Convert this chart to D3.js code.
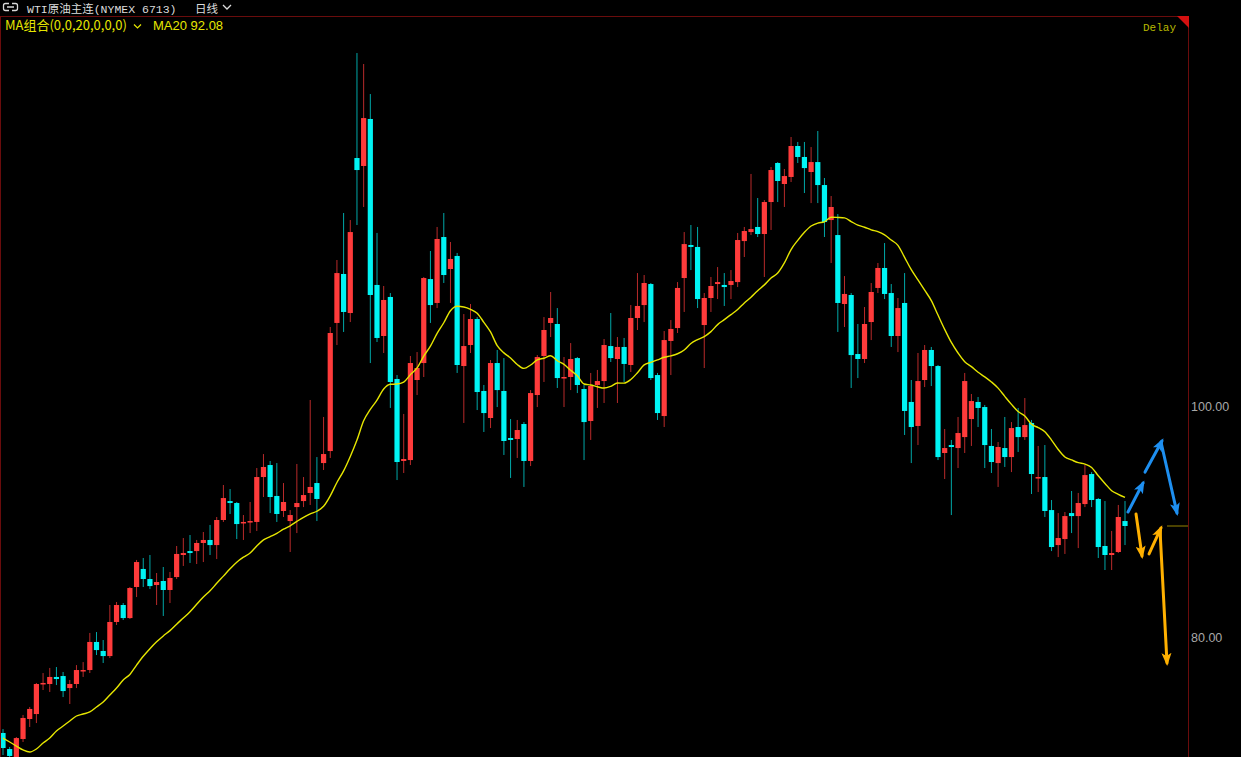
<!DOCTYPE html>
<html><head><meta charset="utf-8">
<script src="https://cdn.jsdelivr.net/npm/d3@7"></script>
<style>html,body{margin:0;padding:0;background:#000;overflow:hidden}</style>
</head><body><svg id="c" width="1241" height="757"></svg>
<script>
// ---- data ----
const title = "WTI原油主连(NYMEX 6713)";
const period = "日线";
const maLabel = "MA组合(0,0,20,0,0,0)";
const maPeriod = 20;
const yTicks = [80, 100];
const opens = [71.69,70.30,69.61,71.17,72.90,73.33,75.93,75.93,76.54,76.62,
75.58,75.93,77.06,77.14,79.57,78.79,78.35,81.30,82.77,81.64,
84.33,85.89,85.02,84.50,84.85,84.07,85.19,87.10,87.44,87.44,
88.14,88.40,87.96,90.13,91.77,91.60,89.87,89.96,89.96,93.85,
94.89,92.21,90.91,90.04,91.25,91.77,92.47,93.33,95.06,96.10,
107.19,111.43,108.05,121.47,120.78,124.85,110.48,106.06,109.44,102.34,
95.24,95.32,102.25,103.72,110.99,108.92,114.63,111.86,112.99,103.46,
105.28,107.53,101.30,98.96,103.72,101.30,97.23,97.14,98.44,95.24,
100.95,104.33,107.19,107.10,102.42,102.51,104.15,101.47,98.70,101.82,
102.16,105.19,104.07,105.11,103.55,107.62,108.74,110.56,102.68,99.13,
105.63,106.75,111.08,113.94,113.77,107.01,109.35,110.56,110.48,110.48,
110.73,114.28,115.06,115.50,114.89,117.66,121.04,119.22,119.83,122.51,
121.56,120.26,121.12,119.13,116.10,114.80,108.83,109.61,104.50,104.07,
107.27,110.22,111.95,109.78,106.06,108.92,100.35,98.27,102.25,104.85,
103.46,95.93,96.62,96.36,97.31,98.87,100.35,99.91,96.54,95.06,
96.36,95.58,98.18,97.31,98.53,93.77,93.85,90.99,87.96,88.48,
90.73,90.47,91.51,94.11,91.95,87.88,87.10,87.36,90.04];
const highs = [72.03,70.48,71.34,73.25,73.94,76.02,76.88,77.32,77.40,76.97,
76.28,77.57,77.83,80.35,80.43,79.74,82.77,83.03,82.94,84.33,
86.67,86.84,87.10,85.54,86.06,85.63,87.88,88.57,88.83,88.40,
89.09,89.70,90.39,93.16,92.81,91.69,90.56,91.69,94.63,95.84,
95.24,95.06,93.33,90.99,94.98,93.85,100.52,95.58,99.05,106.84,
112.64,116.71,116.10,130.56,129.61,127.01,114.98,110.39,109.78,102.68,
99.31,104.33,104.67,111.17,113.42,115.50,116.71,114.20,113.25,107.96,
108.83,107.70,101.82,103.98,104.85,104.15,98.87,98.79,98.61,101.38,
104.41,107.70,109.87,108.48,104.24,105.45,104.24,101.82,102.86,103.12,
105.80,108.05,105.97,105.89,108.74,111.51,111.34,110.65,102.86,106.49,
107.44,110.73,115.06,115.67,115.50,109.78,111.17,112.03,111.51,111.77,
114.98,115.50,120.09,118.01,117.83,120.69,121.12,120.52,123.29,122.86,
122.86,122.42,123.81,119.74,118.18,116.62,111.25,109.78,107.10,108.57,
110.65,112.38,114.11,110.56,109.35,111.51,102.25,104.59,105.28,105.11,
103.55,98.01,97.06,99.05,102.86,101.04,100.78,100.09,98.01,96.88,
99.05,98.61,99.83,100.69,98.79,96.54,96.62,91.86,90.73,90.82,
92.64,92.47,94.89,94.28,92.03,91.77,89.18,91.43,91.77];
const lows = [69.78,69.52,69.52,70.91,72.21,72.55,75.41,75.24,75.84,74.80,
74.20,75.58,76.54,76.88,78.44,77.75,78.18,81.04,81.47,81.56,
83.46,84.33,84.15,82.77,81.82,82.94,85.02,86.15,86.41,86.32,
86.49,87.10,86.75,89.96,90.65,88.48,88.40,89.00,89.18,92.12,
90.73,89.96,90.39,87.36,89.00,91.25,91.43,90.04,94.46,95.50,
105.28,106.41,107.27,115.67,117.23,103.72,105.54,104.59,99.83,93.59,
94.20,94.89,100.95,102.51,107.19,108.48,110.65,108.92,102.86,98.53,
104.59,99.65,97.75,98.09,99.91,95.76,93.77,95.50,92.99,94.80,
99.91,102.08,105.97,101.56,99.91,101.38,101.12,95.32,97.06,99.83,
100.26,103.81,100.26,102.08,102.94,106.58,107.27,102.25,98.79,98.18,
102.68,106.32,108.14,111.77,108.48,103.29,108.14,109.26,108.66,109.26,
110.30,112.90,114.80,114.63,111.17,115.24,117.66,117.23,119.39,121.04,
118.44,117.57,117.57,114.63,112.38,106.41,106.84,101.56,102.42,103.72,
105.71,109.78,109.26,105.11,104.67,97.49,95.06,96.62,101.64,101.73,
95.32,93.68,90.56,94.63,95.93,96.54,98.18,94.63,94.20,92.99,
94.72,94.28,96.02,97.06,92.38,92.55,90.39,87.44,86.92,87.19,
89.00,87.70,91.25,91.25,86.84,85.80,85.80,87.27,87.96];
const closes = [70.39,69.70,71.25,72.99,73.77,75.93,76.02,76.54,76.36,75.32,
75.93,77.14,77.14,79.57,78.87,78.35,81.30,82.77,81.64,84.24,
86.49,85.02,84.41,84.76,84.07,85.11,87.19,87.27,87.27,88.14,
88.40,87.96,90.13,92.03,91.60,89.78,89.96,90.04,93.85,94.72,
92.12,90.65,91.69,90.56,91.60,92.29,92.99,91.95,95.84,106.32,
111.51,108.14,115.06,120.43,124.93,109.61,105.89,109.18,102.08,95.15,
95.41,103.72,103.29,111.08,108.74,114.46,111.34,112.73,103.55,105.19,
107.53,101.21,99.39,103.72,101.38,96.97,97.06,97.92,95.24,101.12,
104.24,106.58,107.62,102.42,102.51,104.07,101.82,98.61,101.73,102.16,
105.28,104.15,105.11,103.64,107.62,108.66,110.65,102.42,99.39,105.71,
106.67,110.22,114.02,113.77,109.26,109.35,110.39,110.73,110.30,110.82,
114.37,115.15,115.32,114.89,117.66,120.43,119.48,119.91,122.51,121.56,
120.60,121.12,119.13,115.93,117.23,108.92,109.70,104.41,104.07,107.10,
109.87,111.95,109.70,106.06,108.48,99.57,98.18,102.16,104.85,103.46,
95.58,96.36,96.45,97.66,102.16,100.43,99.83,96.62,95.15,96.45,
95.58,98.09,97.31,98.35,94.11,93.85,90.91,87.79,88.57,90.47,
90.47,91.60,94.02,91.86,87.79,87.10,87.27,90.39,89.61];
// MA20 values of the first 19 bars (their windows start before the visible data)
const maHead = [71.25,70.91,70.56,70.22,70.04,70.30,70.82,71.25,71.86,72.29,
72.73,73.16,73.33,73.51,73.94,74.37,74.98,75.58,76.28];
// annotation arrows: [bar index, price] start -> end
const blueArrows = [
  [[168.45,90.82],[170.70,93.33]],
  [[171.00,94.28],[173.54,96.97]],
  [[173.39,96.88],[175.79,90.73]]
];
const orangeArrows = [
  [[169.65,90.65],[170.55,87.01]],
  [[171.60,87.19],[173.39,89.44]],
  [[173.24,89.26],[174.29,77.75]]
];

// ---- drawing ----
const W = 1241, H = 757;
const PLOT_R = 1188, PLOT_T = 16;
const svg = d3.select('#c');
svg.append('rect').attr('width', W).attr('height', H).attr('fill', '#000');

const n = closes.length;
const x = d3.scaleLinear().domain([0, n - 1]).range([3, 1125]);
const y = d3.scaleLinear().domain([80, 100]).range([637, 406]);
const bodyW = 5.2;
const UP = '#ff3b3b', DOWN = '#00f4f4';
const UPW = '#b82a2a', DOWNW = '#00a8a8';

const bars = opens.map((o, i) => ({ i, o, h: highs[i], l: lows[i], c: closes[i], up: closes[i] >= o }));

const defs = svg.append('defs');
defs.append('clipPath').attr('id', 'plot').append('rect')
  .attr('x', 0).attr('y', PLOT_T + 1).attr('width', PLOT_R).attr('height', H - PLOT_T);

const g = svg.append('g').attr('clip-path', 'url(#plot)');

// wicks
g.selectAll('line.wick').data(bars).join('line').attr('class', 'wick')
  .attr('x1', d => x(d.i)).attr('x2', d => x(d.i))
  .attr('y1', d => y(d.h)).attr('y2', d => y(d.l))
  .attr('stroke', d => d.up ? UPW : DOWNW).attr('stroke-width', 1);

// bodies
g.selectAll('rect.body').data(bars).join('rect').attr('class', 'body')
  .attr('x', d => x(d.i) - bodyW / 2)
  .attr('y', d => y(Math.max(d.o, d.c)))
  .attr('width', bodyW)
  .attr('height', d => Math.max(1.5, Math.abs(y(d.o) - y(d.c))))
  .attr('fill', d => d.up ? UP : DOWN);

// MA20
const ma = closes.map((c, i) => i < maPeriod - 1 ? maHead[i] : d3.mean(closes.slice(i - maPeriod + 1, i + 1)));
g.append('path').datum(ma)
  .attr('d', d3.line().x((d, i) => x(i)).y(d => y(d)).curve(d3.curveMonotoneX))
  .attr('fill', 'none').attr('stroke', '#e6e600').attr('stroke-width', 1.4);

// last price line
const last = closes[n - 1];
svg.append('line').attr('x1', 1167).attr('x2', PLOT_R).attr('y1', y(last)).attr('y2', y(last))
  .attr('stroke', '#7d6e00').attr('stroke-width', 1.2);

// arrows
function marker(id, color) {
  defs.append('marker').attr('id', id).attr('viewBox', '0 -5 13 10')
    .attr('refX', 10).attr('refY', 0).attr('markerWidth', 13).attr('markerHeight', 10)
    .attr('markerUnits', 'userSpaceOnUse').attr('orient', 'auto')
    .append('path').attr('d', 'M0,-5L13,0L0,5L3,0Z').attr('fill', color);
}
marker('mb', '#1e8ff0');
marker('mo', '#ffb000');
function drawArrows(list, color, mid) {
  svg.selectAll(null).data(list).join('line')
    .attr('x1', d => x(d[0][0])).attr('y1', d => y(d[0][1]))
    .attr('x2', d => x(d[1][0])).attr('y2', d => y(d[1][1]))
    .attr('stroke', color).attr('stroke-width', 3).attr('stroke-linecap', 'round')
    .attr('marker-end', `url(#${mid})`);
}
drawArrows(blueArrows, '#1e8ff0', 'mb');
drawArrows(orangeArrows, '#ffb000', 'mo');

// frame
const frame = '#6a0c0c';
svg.append('line').attr('x1', 0).attr('x2', PLOT_R).attr('y1', PLOT_T + 0.5).attr('y2', PLOT_T + 0.5).attr('stroke', frame);
svg.append('line').attr('x1', PLOT_R + 0.5).attr('x2', PLOT_R + 0.5).attr('y1', PLOT_T).attr('y2', H).attr('stroke', frame);
svg.append('line').attr('x1', 0.5).attr('x2', 0.5).attr('y1', PLOT_T).attr('y2', H).attr('stroke', frame);
svg.append('path').attr('d', `M${PLOT_R - 11},${PLOT_T}L${PLOT_R + 1},${PLOT_T}L${PLOT_R + 1},${PLOT_T + 12}Z`).attr('fill', '#d41010');

// right axis
const ax = svg.append('g').attr('transform', `translate(${PLOT_R},0)`)
  .call(d3.axisRight(y).tickValues(yTicks).tickFormat(d3.format('.2f')).tickSize(0).tickPadding(3));
ax.select('.domain').remove();
ax.selectAll('text').attr('fill', '#a8a8a8').attr('font-size', '12.5px')
  .attr('font-family', '"Liberation Sans", Arial, sans-serif');

// header
const hdr = svg.append('g');
hdr.append('path').attr('d', 'M9,3.5H5.5Q3.5,3.5,3.5,5.5V8.5Q3.5,10.5,5.5,10.5H9 M12,3.5H15.5Q17.5,3.5,17.5,5.5V8.5Q17.5,10.5,15.5,10.5H12 M7,7H14')
  .attr('fill', 'none').attr('stroke', '#d8d8d8').attr('stroke-width', 1.3);
hdr.append('text').attr('x', 27).attr('y', 12.5).text(title)
  .attr('fill', '#dcdcdc').attr('font-size', '11.5px')
  .attr('font-family', '"Liberation Mono", "Noto Sans CJK SC", monospace');
hdr.append('text').attr('x', 195).attr('y', 12.5).text(period)
  .attr('fill', '#dcdcdc').attr('font-size', '11.5px').attr('font-family', '"Noto Sans CJK SC", sans-serif');
hdr.append('path').attr('d', 'M223,5L227,9L231,5').attr('fill', 'none').attr('stroke', '#dcdcdc').attr('stroke-width', 1.3);

hdr.append('text').attr('x', 5).attr('y', 30).text(maLabel)
  .attr('fill', '#e6e600').attr('font-size', '13px').attr('font-family', '"Noto Sans CJK SC", "Liberation Sans", sans-serif');
hdr.append('path').attr('d', 'M134,24.5L137.5,28L141,24.5').attr('fill', 'none').attr('stroke', '#e6e600').attr('stroke-width', 1.2);
hdr.append('text').attr('x', 153).attr('y', 30).text(`MA${maPeriod} ${d3.format('.2f')(ma[n - 1])}`)
  .attr('fill', '#e6e600').attr('font-size', '13px').attr('font-family', '"Liberation Sans", Arial, sans-serif');

svg.append('text').attr('x', 1143).attr('y', 31).text('Delay')
  .attr('fill', '#b8b800').attr('font-size', '11px').attr('font-family', '"Liberation Mono", monospace');
</script>
</body></html>
